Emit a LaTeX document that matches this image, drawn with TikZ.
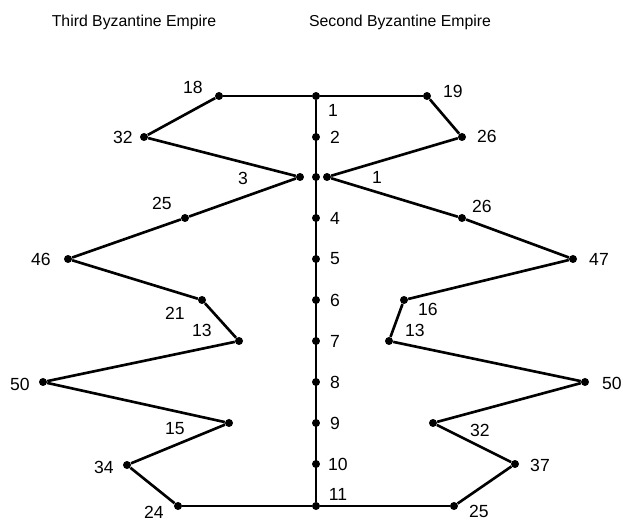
\documentclass[tikz,border=0pt]{standalone}
\usepackage{fontspec}
\setmainfont{Liberation Sans}

\begin{document}
\begin{tikzpicture}[x=0.02cm, y=-0.02cm, font=\fontsize{10}{12}\selectfont,
        dot/.style={circle, fill, inner sep=0pt, minimum size=0.16cm},
        zig/.style={line width=1.5pt, line join=round},
        rail/.style={line width=1pt}]
        \useasboundingbox (0,0) rectangle (623,520);

        \node (third) at (134,22) {\fontsize{9}{11}\selectfont Third Byzantine Empire};
        \node (second) at (400,22) {\fontsize{9}{11}\selectfont Second Byzantine Empire};

        % centre line
        \node[dot] (a1) at (316,96) {};
        \node[dot] (a2) at (316,137) {};
        \node[dot] (a3) at (316,177) {};
        \node[dot] (a4) at (316,218) {};
        \node[dot] (a5) at (316,259) {};
        \node[dot] (a6) at (316,300) {};
        \node[dot] (a7) at (316,341) {};
        \node[dot] (a8) at (316,382) {};
        \node[dot] (a9) at (316,423) {};
        \node[dot] (a10) at (316,464) {};
        \node[dot] (a11) at (316,506) {};
        \node (n1) at (333,110) {1};
        \node (n2) at (335,137) {2};
        \node (n4) at (335,218) {4};
        \node (n5) at (335,259) {5};
        \node (n6) at (335,300) {6};
        \node (n7) at (335,341) {7};
        \node (n8) at (335,382) {8};
        \node (n9) at (335,423) {9};
        \node (n10) at (338,464) {10};
        \node (n11) at (338,494) {11};

        % third empire
        \node[dot] (l1) at (219,96) {};
        \node[dot] (l2) at (144,137) {};
        \node[dot] (l3) at (300,177) {};
        \node[dot] (l4) at (185,218) {};
        \node[dot] (l5) at (68,259) {};
        \node[dot] (l6) at (202,300) {};
        \node[dot] (l7) at (239,341) {};
        \node[dot] (l8) at (43,382) {};
        \node[dot] (l9) at (229,423) {};
        \node[dot] (l10) at (127,465) {};
        \node[dot] (l11) at (178,506) {};
        \node (tl1) at (193,87) {18};
        \node (tl2) at (123,137) {32};
        \node (tl3) at (243,178) {3};
        \node (tl4) at (162,203) {25};
        \node (tl5) at (41,259) {46};
        \node (tl6) at (175,313) {21};
        \node (tl7) at (202,330) {13};
        \node (tl8) at (20,384) {50};
        \node (tl9) at (175,429) {15};
        \node (tl10) at (104,467) {34};
        \node (tl11) at (154,512) {24};

        % second empire
        \node[dot] (r1) at (427,96) {};
        \node[dot] (r2) at (462,137) {};
        \node[dot] (r3) at (327,177) {};
        \node[dot] (r4) at (462,218) {};
        \node[dot] (r5) at (573,259) {};
        \node[dot] (r6) at (404,300) {};
        \node[dot] (r7) at (389,341) {};
        \node[dot] (r8) at (585,382) {};
        \node[dot] (r9) at (433,423) {};
        \node[dot] (r10) at (515,464) {};
        \node[dot] (r11) at (454,506) {};
        \node (tr1) at (453,91) {19};
        \node (tr2) at (487,136) {26};
        \node (tr3) at (377,177) {1};
        \node (tr4) at (482,206) {26};
        \node (tr5) at (599,259) {47};
        \node (tr6) at (428,309) {16};
        \node (tr7) at (415,330) {13};
        \node (tr8) at (612,383) {50};
        \node (tr9) at (480,430) {32};
        \node (tr10) at (540,465) {37};
        \node (tr11) at (479,511) {25};

        \draw[rail] (a1) -- (a11);
        \draw[rail] (l1) -- (a1) -- (r1);
        \draw[rail] (l11) -- (a11) -- (r11);
        \draw[zig] (l1) -- (l2) -- (l3) -- (l4) -- (l5) -- (l6) -- (l7) -- (l8) -- (l9) -- (l10) -- (l11);
        \draw[zig] (r1) -- (r2) -- (r3) -- (r4) -- (r5) -- (r6) -- (r7) -- (r8) -- (r9) -- (r10) -- (r11);
\end{tikzpicture}
\end{document}
